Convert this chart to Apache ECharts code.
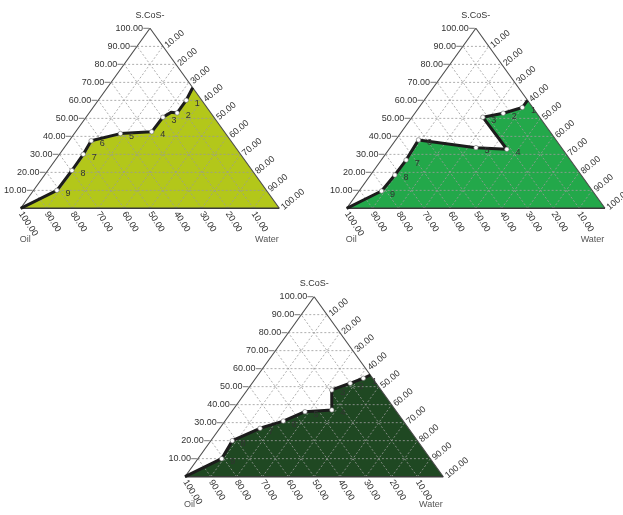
<!DOCTYPE html>
<html>
<head>
<meta charset="utf-8">
<script src="https://cdn.jsdelivr.net/npm/echarts@6/dist/echarts.min.js"></script>
<style>
  html, body { margin: 0; padding: 0; background: #fff; }
  #c { width: 623px; height: 515px; }
</style>
</head>
<body>
<div id="c"></div>
<script>
// Edge scale (percent) and its printed labels
const tickValues = [10, 20, 30, 40, 50, 60, 70, 80, 90, 100];
const tickLabels = ['10.00', '20.00', '30.00', '40.00', '50.00', '60.00', '70.00', '80.00', '90.00', '100.00'];
const apexName = 'S.CoS-';
const oilName = 'Oil';
const waterName = 'Water';

// Phase boundaries: S.CoS- % and Water % for each measured point (Oil = 100 - S - W)
const namesA = ['1', '2', '', '3', '4', '5', '6', '7', '8', '9'];
const sA = [60, 53, 53.3, 50.6, 42.5, 41.5, 37.5, 30, 21, 10];
const wA = [34, 34, 31.5, 29.7, 29.4, 17.8, 8.5, 9.2, 9.3, 9];
const endA = [67, 33];

const namesB = ['1', '2', '3', '4', '5', '6', '7', '8', '9'];
const sB = [56, 52.8, 50.6, 32.8, 33.7, 38, 26.8, 18.5, 9.6];
const wB = [40, 34.2, 27.4, 45.6, 33.2, 8.8, 9.6, 9.4, 8.7];
const endB = [60, 40];

const namesC = ['1', '2', '3', '4', '5', '6', '7', '8', '9'];
const sC = [54.7, 51.9, 48.2, 37.1, 36.1, 30.9, 26.9, 20, 10];
const wC = [41.7, 38, 32.7, 38.3, 28.4, 22.6, 15.6, 8.3, 9.2];
const endC = [56.5, 43.5];

const fillColors = ['#b3c71a', '#23a84a', '#1f4822'];

// Placement of the three diagrams on the page
const frames = [
  { left: 20.7, top: 28.3, width: 258.6, height: 180, footDy: 31 },
  { left: 346.7, top: 28.3, width: 258.3, height: 180, footDy: 31 },
  { left: 185, top: 296.7, width: 258.3, height: 180, footDy: 28 }
];

const FONT = '"Liberation Sans", Arial, sans-serif';

// ternary (S.CoS-, Water) -> plane coordinates on a 0..100 x 0..100 grid
function xy(s, w) { return [w + s / 2, s]; }

function textSeries(i, items, z) {
  return {
    type: 'custom', coordinateSystem: 'cartesian2d',
    xAxisIndex: i, yAxisIndex: i, z: z, silent: true,
    data: items.map(t => [t.x, t.y]),
    renderItem: function (params, api) {
      const t = items[params.dataIndex];
      const p = api.coord([t.x, t.y]);
      return {
        type: 'text',
        x: p[0] + (t.dx || 0), y: p[1] + (t.dy || 0),
        rotation: (t.rot || 0) * Math.PI / 180,
        style: {
          text: t.text, fill: t.color || '#333',
          fontSize: t.size || 9, fontFamily: FONT,
          align: t.align || 'left', verticalAlign: 'middle'
        }
      };
    }
  };
}

function segSeries(i, segs, style, z) {
  return {
    type: 'custom', coordinateSystem: 'cartesian2d',
    xAxisIndex: i, yAxisIndex: i, z: z, silent: true,
    data: segs,
    renderItem: function (params, api) {
      const a = api.coord([api.value(0), api.value(1)]);
      const b = api.coord([api.value(2), api.value(3)]);
      return { type: 'line', shape: { x1: a[0], y1: a[1], x2: b[0], y2: b[1] }, style: style };
    }
  };
}

function diagram(i, names, sArr, wArr, end) {
  const f = frames[i];
  // boundary from the Oil corner through points 9..1 to the Water/S.CoS- edge
  const curve = [{ value: [0, 0], name: '', symbol: 'none' }];
  for (let k = sArr.length - 1; k >= 0; k--) {
    curve.push({ value: xy(sArr[k], wArr[k]), name: names[k], symbol: names[k] ? 'circle' : 'none' });
  }
  curve.push({ value: xy(end[0], end[1]), name: '', symbol: 'none' });
  const region = curve.map(d => d.value).concat([[100, 0]]);

  // grid lines parallel to each side
  const grid = [];
  tickValues.slice(0, 9).forEach(t => {
    grid.push([t / 2, t, 100 - t / 2, t]);             // constant S.CoS-
    grid.push([t, 0, t + (100 - t) / 2, 100 - t]);     // constant Water
    grid.push([100 - t, 0, (100 - t) / 2, 100 - t]);   // constant Oil
  });

  // short ticks beside the left-edge labels
  const ticks = tickValues.map(t => [t / 2 - 2.6, t, t / 2 - 0.4, t]);

  const labels = [];
  tickValues.forEach((t, k) => {
    labels.push({ x: t / 2, y: t, text: tickLabels[k], align: 'right', dx: -7, dy: 0 });
    labels.push({ x: 100 - t, y: 0, text: tickLabels[k], rot: -57, dx: 0, dy: 4 });
    labels.push({ x: (100 + t) / 2, y: 100 - t, text: tickLabels[k], rot: 40, dx: 3, dy: 0 });
  });
  labels.push({ x: 50, y: 100, text: apexName, align: 'center', dy: -13 });
  labels.push({ x: 0, y: 0, text: oilName, align: 'center', dx: 4.5, dy: f.footDy, color: '#555' });
  labels.push({ x: 100, y: 0, text: waterName, align: 'center', dx: -12.5, dy: f.footDy, color: '#555' });

  return [
    {
      type: 'custom', coordinateSystem: 'cartesian2d',
      xAxisIndex: i, yAxisIndex: i, z: 1, silent: true,
      data: [[0, 0]],
      renderItem: function (params, api) {
        return {
          type: 'polygon',
          shape: { points: region.map(p => api.coord(p)) },
          style: { fill: fillColors[i] }
        };
      }
    },
    segSeries(i, grid, { stroke: '#9a9a9a', lineWidth: 0.8, lineDash: [2, 2] }, 2),
    segSeries(i, [[0, 0, 50, 100], [50, 100, 100, 0]], { stroke: '#4a4a4a', lineWidth: 1.1 }, 3),
    segSeries(i, [[0, 0, 100, 0]], { stroke: '#3a3a3a', lineWidth: 1.6 }, 3),
    segSeries(i, ticks, { stroke: '#555', lineWidth: 0.8 }, 3),
    {
      type: 'line', xAxisIndex: i, yAxisIndex: i, z: 4, clip: false,
      data: curve, showSymbol: true, symbolSize: 4.5,
      itemStyle: { color: '#fff', borderColor: '#666', borderWidth: 0.6 },
      lineStyle: { color: '#1c1c1c', width: 3 },
      label: {
        show: true, formatter: '{b}', position: 'right', offset: [1, 3],
        fontSize: 9, fontFamily: FONT, color: '#333'
      },
      silent: true, animation: false
    },
    textSeries(i, labels, 5)
  ];
}

const chart = echarts.init(document.getElementById('c'), null, { renderer: 'canvas' });
chart.setOption({
  animation: false,
  backgroundColor: '#fff',
  grid: frames.map(f => ({ left: f.left, top: f.top, width: f.width, height: f.height })),
  xAxis: frames.map((f, i) => ({ gridIndex: i, type: 'value', min: 0, max: 100, show: false })),
  yAxis: frames.map((f, i) => ({ gridIndex: i, type: 'value', min: 0, max: 100, show: false })),
  series: [].concat(
    diagram(0, namesA, sA, wA, endA),
    diagram(1, namesB, sB, wB, endB),
    diagram(2, namesC, sC, wC, endC)
  )
});
</script>
</body>
</html>
